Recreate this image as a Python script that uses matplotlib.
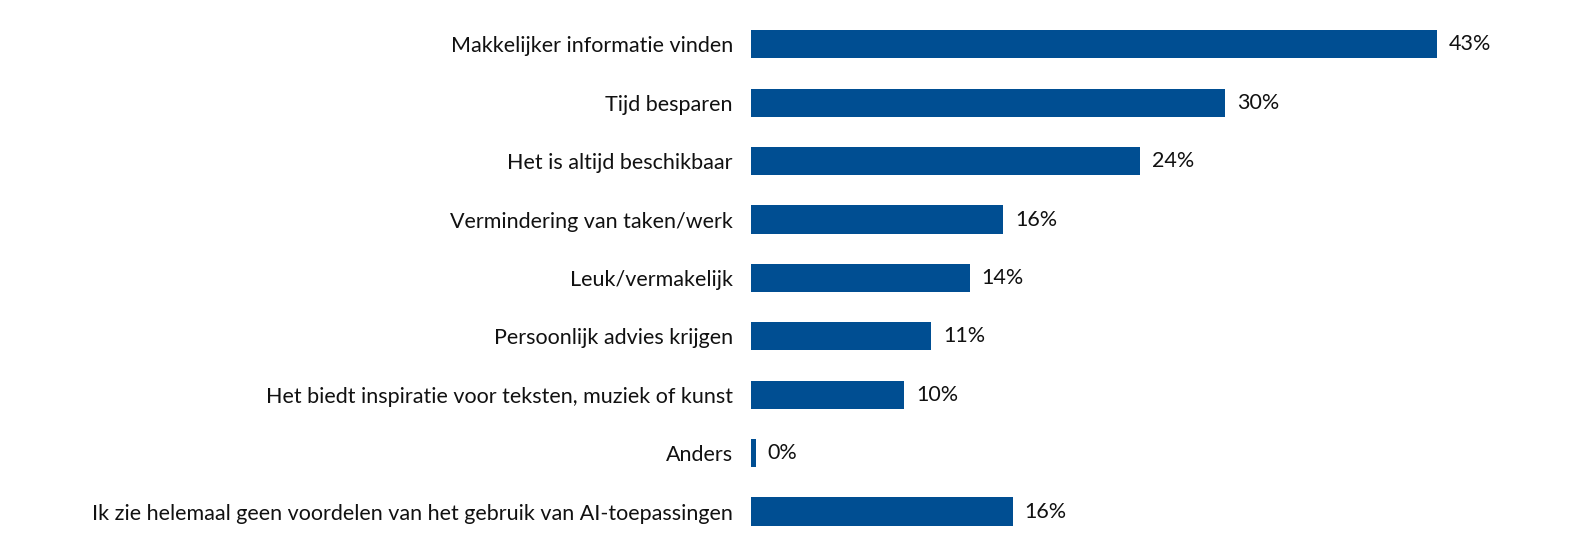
import matplotlib
matplotlib.use("Agg")
import matplotlib.pyplot as plt

categories = [
    "Makkelijker informatie vinden",
    "Tijd besparen",
    "Het is altijd beschikbaar",
    "Vermindering van taken/werk",
    "Leuk/vermakelijk",
    "Persoonlijk advies krijgen",
    "Het biedt inspiratie voor teksten, muziek of kunst",
    "Anders",
    "Ik zie helemaal geen voordelen van het gebruik van AI-toepassingen",
]
values = [43.0, 29.7, 24.4, 15.8, 13.7, 11.3, 9.6, 0.3, 16.4]
value_labels = ["43%", "30%", "24%", "16%", "14%", "11%", "10%", "0%", "16%"]

plt.rcParams['font.family'] = ['Lato', 'DejaVu Sans']
W, H = 1578, 545
fig = plt.figure(figsize=(W / 100, H / 100), dpi=100)
left = 751 / W
right = 1548.5 / W
ax = fig.add_axes([left, 0, right - left, 1])

color = "#004E92"
ypos = list(range(len(categories)))
ax.barh(ypos, values, height=0.48, color=color)
ax.set_xlim(0, 50)
ax.set_ylim((H - 44.3) / 58.4, -44.3 / 58.4)

ax.set_yticks(ypos)
ax.set_yticklabels(categories, fontsize=15.5, color="#111111")
ax.tick_params(axis='y', length=0, pad=13)
ax.set_xticks([])
for s in ax.spines.values():
    s.set_visible(False)

for y, v, lab in zip(ypos, values, value_labels):
    ax.annotate(lab, (v, y), xytext=(12, 0), textcoords="offset pixels",
                va="center", ha="left", fontsize=15.5, color="#111111")

fig.savefig("out.png", dpi=100)
